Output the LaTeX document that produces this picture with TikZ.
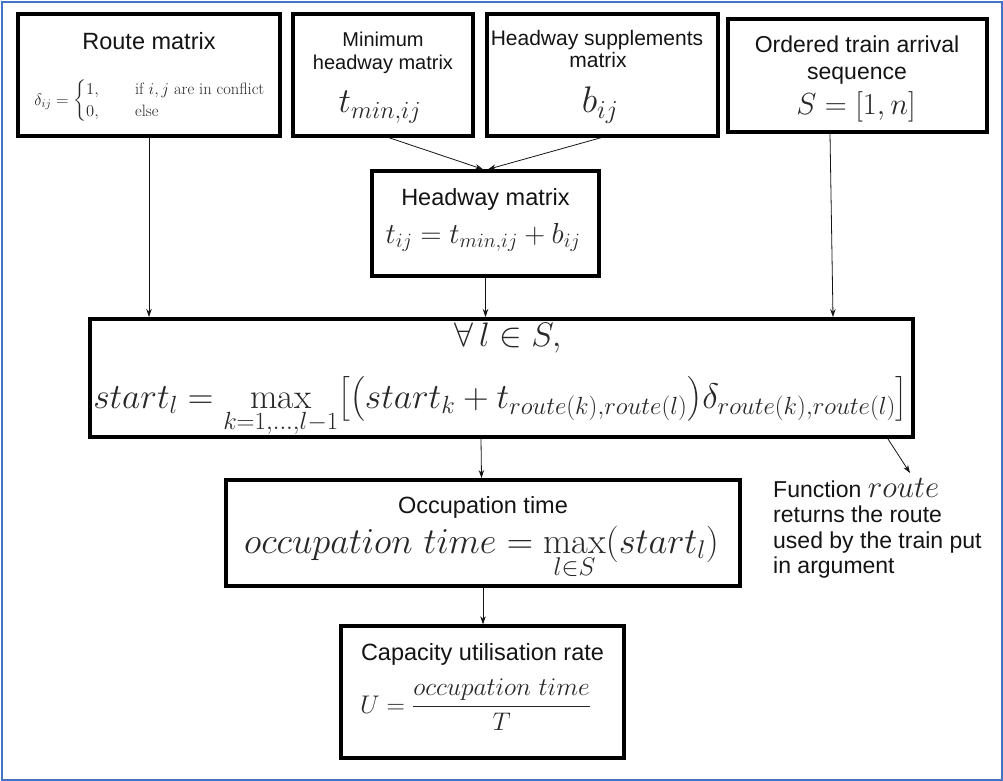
\RequirePackage{fix-cm}
\documentclass[tikz,border=0pt]{standalone}
\usepackage{amsmath}
\usepackage{fontspec}
\newfontfamily\arial{Liberation Sans}
\usetikzlibrary{arrows.meta,calc}

\definecolor{frameblue}{RGB}{68,114,196}
\definecolor{ink}{RGB}{20,20,20}
\definecolor{mathink}{RGB}{40,40,40}

% font size helper: size and baselineskip in pt
\newcommand{\sz}[2]{\fontsize{#1}{#2}\selectfont}

\begin{document}
\begin{tikzpicture}[x=1pt,y=-1pt,
  box/.style={draw=black, line width=3.4pt, fill=white, inner sep=0pt},
  bigbox/.style={box, line width=4pt},
  lbl/.style={anchor=base, text=ink, inner sep=0pt, font=\arial\sz{23.5}{27}},
  small/.style={lbl, font=\arial\sz{20}{24}},
  eq/.style={anchor=base, text=mathink, inner sep=0pt},
  arr/.style={-{Stealth[length=8pt,width=5.5pt]}, line width=0.8pt, draw=ink}]

\useasboundingbox (0,0) rectangle (1003,781);
\draw[frameblue, line width=2.2pt] (2,2) rectangle (1002,780);

% ---- input boxes ----
\node[box, minimum width=262pt, minimum height=122pt] (route)   at (149,75)    {};
\node[box, minimum width=180pt, minimum height=122pt] (minh)    at (383,75)    {};
\node[box, minimum width=231pt, minimum height=122pt] (supp)    at (602.5,75)  {};
\node[box, minimum width=259pt, minimum height=113pt] (ordered) at (857.5,75.5) {};

\node[lbl] (routeT) at (149,50) {Route matrix};
\node[eq, anchor=center, font=\sz{16.5}{22}] (routeF) at (150,101)
  {$\delta_{ij} = \left\{\begin{array}{@{}l@{\hspace{2.2em}}l@{}}
     1, & \text{if } i, j \text{ are in conflict}\\
     0, & \text{else}\end{array}\right.$};

\node[small] (minhT1) at (383,47) {Minimum};
\node[small] (minhT2) at (383,70) {headway matrix};
\node[eq, font=\sz{35}{40}] (minhF) at (380,113) {$t_{min,ij}$};

\node[small, font=\arial\sz{21}{24}] (suppT1) at (597,46) {Headway supplements};
\node[small, font=\arial\sz{21}{24}] (suppT2) at (598,68) {matrix};
\node[eq, font=\sz{37}{40}] (suppF) at (600,113) {$b_{ij}$};

\node[lbl, font=\arial\sz{23}{26}] (ordT1) at (857,53) {Ordered train arrival};
\node[lbl, font=\arial\sz{23}{26}] (ordT2) at (857,80) {sequence};
\node[eq, font=\sz{30.5}{36}] (ordF) at (856,115) {$S = [1, n]$};

% ---- headway matrix ----
\node[box, minimum width=227pt, minimum height=105pt] (headway) at (485.5,223.5) {};
\node[lbl] (headT) at (485.5,205) {Headway matrix};
\node[eq, font=\sz{29}{34}] (headF) at (483,243) {$t_{ij} = t_{min,ij} + b_{ij}$};

% ---- start times ----
\node[bigbox, minimum width=823pt, minimum height=118pt] (big) at (501.5,378) {};
\node[eq, font=\sz{34}{40}] (forall) at (508,346) {$\forall\, l \in S,$};
\node[eq, font=\sz{35.5}{40}] (startF) at (500.5,408)
  {$\displaystyle start_l = \max_{k=1,\ldots,l-1}\bigl[\bigl(start_k + t_{route(k),route(l)}\bigr)\delta_{route(k),route(l)}\bigr]$};

% ---- occupation time ----
\node[bigbox, minimum width=514pt, minimum height=106pt] (occ) at (483,533) {};
\node[lbl] (occT) at (483,513) {Occupation time};
\node[eq, font=\sz{36.5}{40}] (occF) at (481.5,553)
  {$\displaystyle occupation\ time = \max_{l\in S}(start_l)$};

% ---- capacity utilisation ----
\node[box, minimum width=283pt, minimum height=132pt] (cap) at (482.5,692) {};
\node[lbl] (capT) at (482.5,660) {Capacity utilisation rate};
\node[eq, font=\sz{25.5}{30}] (capF) at (475.5,713)
  {$\displaystyle U = \frac{occupation\ time}{T}$};

% ---- note on the route function ----
\node[lbl, anchor=base west, font=\arial\sz{23}{26}] (fn1) at (773,497)
  {Function \textcolor{mathink}{\sz{31}{34}$route$}};
\node[lbl, anchor=base west, font=\arial\sz{23}{26}] (fn2) at (773,522) {returns the route};
\node[lbl, anchor=base west, font=\arial\sz{23}{26}] (fn3) at (773,548) {used by the train put};
\node[lbl, anchor=base west, font=\arial\sz{23}{26}] (fn4) at (773,573) {in argument};
\coordinate (fntip) at (910,473);

% ---- connectors ----
\draw[arr] (route.south) -- (route.south |- big.north);
\draw[arr] ($(minh.south)+(6,0)$) -- ($(headway.north)+(-2.5,0)$);
\draw[arr] ($(supp.south)+(-1.5,0)$) -- ($(headway.north)+(2.5,0)$);
\draw[arr] ($(ordered.south)+(-27.5,0)$) -- ($(big.north)+(331.5,0)$);
\draw[arr] (headway.south) -- (headway.south |- big.north);
\draw[arr] ($(big.south)+(-20.5,0)$) -- ($(occ.north)+(-1.5,0)$);
\draw[arr] ($(big.south)+(386.5,0)$) -- (fntip);
\draw[arr] (occ.south) -- (occ.south |- cap.north);
\end{tikzpicture}
\end{document}
